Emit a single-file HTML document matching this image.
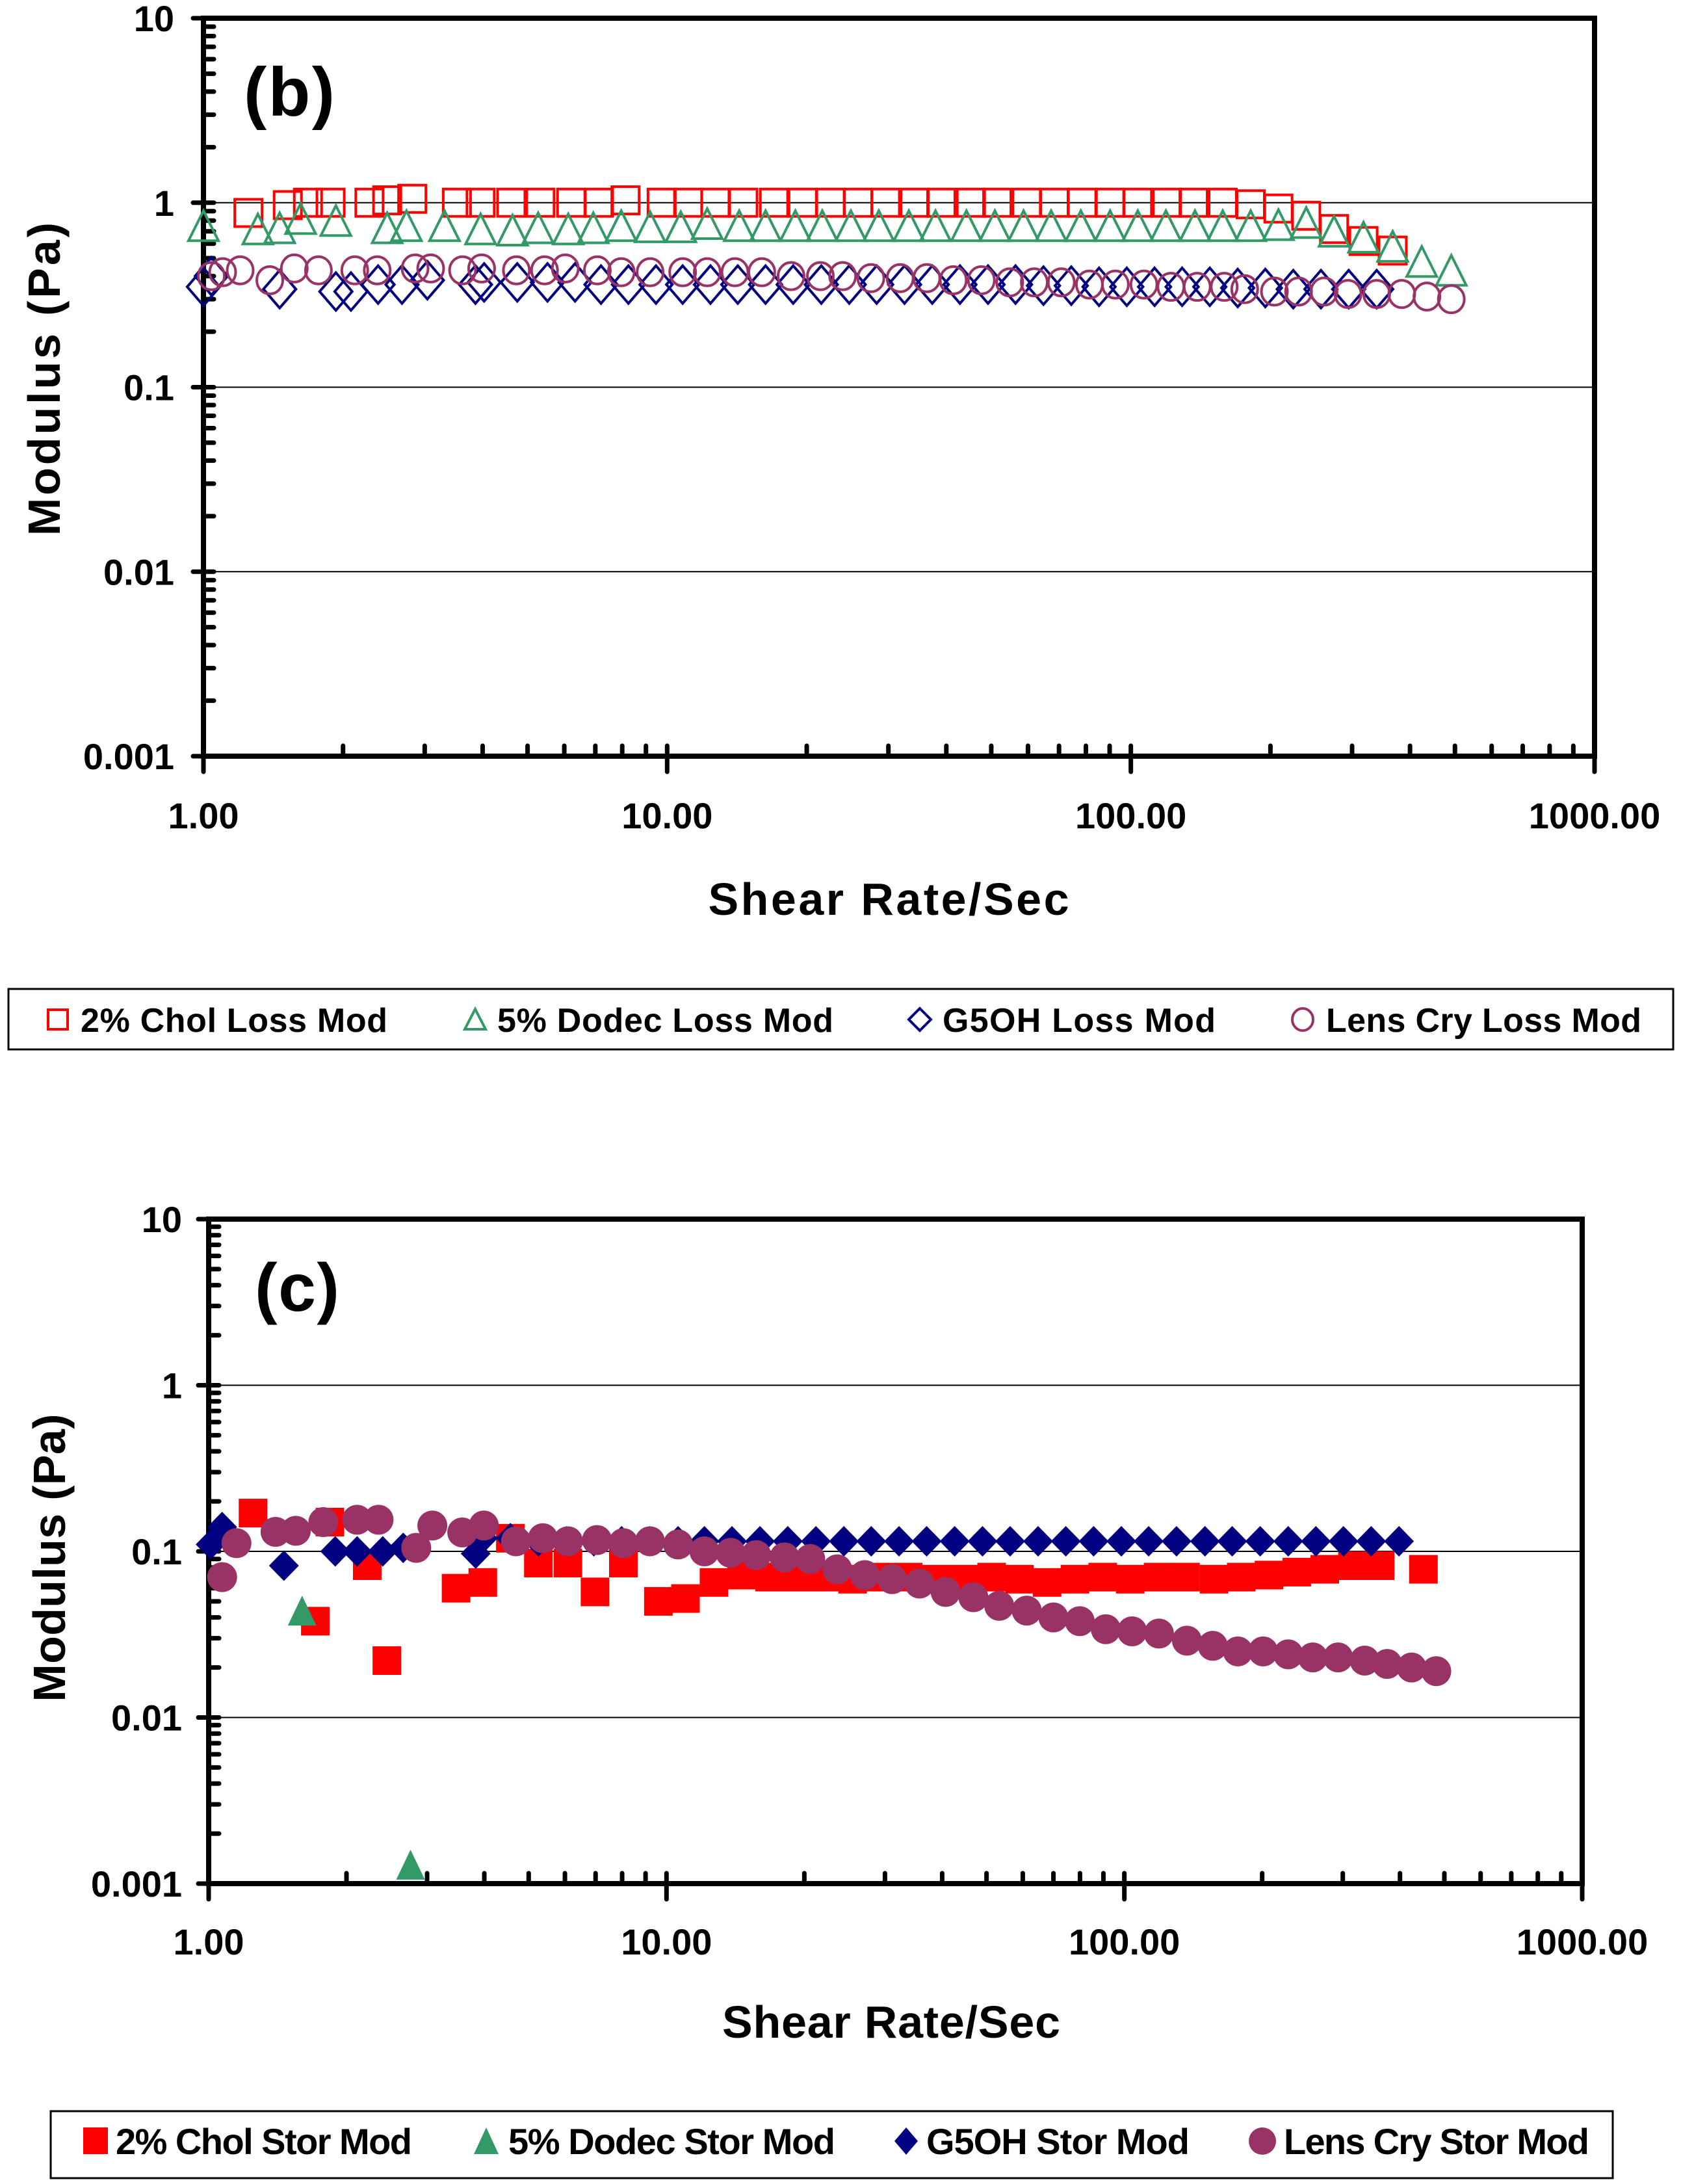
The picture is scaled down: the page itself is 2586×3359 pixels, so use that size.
<!DOCTYPE html>
<html><head><meta charset="utf-8"><style>
html,body{margin:0;padding:0;background:#fff;}
svg{display:block;}
text{font-family:"Liberation Sans",Arial,sans-serif;font-weight:bold;fill:#000;}
</style></head>
<body>
<svg id="svg" width="2586" height="3359" viewBox="0 0 2586 3359" xmlns="http://www.w3.org/2000/svg">
<g id="c1"></g>
<g id="c2"></g>
</svg>
<script>
// ---- chart (b) data: loss modulus ----
const cholLossX=[1.25,1.52,1.68,1.88,2.28,2.49,2.82,3.52,3.96,4.61,5.33,6.21,7.13,8.13,9.73,11.1,12.7,14.6,17.0,19.6,22.5,25.8,29.6,34.2,39.0,45.2,51.5,59.6,68.4,78.5,90.2,103.5,119.7,136.5,157.8,181.3,208.1,238.9,274.3,317.5,367];
const cholLossY=[0.88,0.97,1.0,1.0,1.0,1.03,1.05,1.0,1.0,1.0,1.0,1.0,1.0,1.03,1.0,1.0,1.0,1.0,1.0,1.0,1.0,1.0,1.0,1.0,1.0,1.0,1.0,1.0,1.0,1.0,1.0,1.0,1.0,1.0,1.0,0.98,0.93,0.85,0.72,0.62,0.55];
const dodecLossX=[1.0,1.31,1.46,1.62,1.93,2.49,2.74,3.31,3.96,4.64,5.27,6.12,6.93,7.96,9.19,10.7,12.2,14.3,16.3,18.9,21.6,24.9,28.6,33.2,37.9,44.2,50.9,58.7,67.3,78.0,90.2,103.5,119,137.5,157.8,181.3,208.1,238.9,274.3,317.5,367,424,491];
const dodecLossY=[0.75,0.72,0.73,0.82,0.8,0.73,0.75,0.75,0.72,0.71,0.73,0.72,0.73,0.75,0.74,0.74,0.77,0.75,0.75,0.75,0.75,0.75,0.75,0.75,0.75,0.75,0.75,0.75,0.75,0.75,0.75,0.75,0.75,0.75,0.75,0.75,0.76,0.78,0.7,0.65,0.58,0.48,0.43];
const g5LossX=[1.0,1.04,1.46,1.93,2.08,2.38,2.68,3.04,3.86,4.03,4.75,5.52,6.33,7.2,8.25,9.46,10.8,12.4,14.2,16.3,18.7,21.5,24.7,28.3,32.5,37.3,42.8,49.2,56.4,64.8,74.4,85.4,98,112.5,129,148,170,195,224,257,295,339];
const g5LossY=[0.35,0.4,0.34,0.33,0.33,0.36,0.36,0.38,0.36,0.37,0.37,0.37,0.37,0.36,0.36,0.36,0.36,0.36,0.36,0.36,0.36,0.36,0.36,0.36,0.36,0.36,0.36,0.36,0.36,0.355,0.355,0.35,0.35,0.35,0.35,0.35,0.345,0.345,0.34,0.34,0.34,0.34];
const lensLossX=[1.04,1.10,1.2,1.39,1.57,1.77,2.12,2.37,2.86,3.09,3.62,3.98,4.73,5.44,6.03,7.07,7.96,9.19,10.8,12.2,14.0,16.0,18.5,21.4,23.9,27.5,31.8,36.3,41.4,47.6,54.8,61.9,70.8,81.4,92.6,106.7,122,139,159,176,204,230,261,294,339,384,435,491];
const lensLossY=[0.4,0.42,0.43,0.38,0.44,0.43,0.43,0.43,0.44,0.44,0.43,0.44,0.43,0.43,0.44,0.43,0.42,0.42,0.42,0.42,0.42,0.42,0.4,0.4,0.4,0.39,0.39,0.39,0.38,0.38,0.37,0.37,0.37,0.36,0.36,0.36,0.35,0.35,0.35,0.34,0.33,0.33,0.33,0.32,0.32,0.32,0.31,0.3];
// ---- chart (c) data: storage modulus ----
const cholStorX=[1.25,1.71,1.84,2.22,2.45,3.47,3.97,4.56,5.25,6.09,6.98,8.05,9.6,11.0,12.7,14.6,16.8,19.3,22.2,25.5,29.3,33.7,38.8,44.6,51.3,59,67.8,78,89.7,103,118.5,136,157,180,207,238,274,315,362,450];
const cholStorY=[0.17,0.038,0.15,0.082,0.022,0.06,0.065,0.12,0.085,0.085,0.057,0.085,0.05,0.052,0.065,0.072,0.07,0.07,0.07,0.068,0.07,0.07,0.068,0.068,0.07,0.068,0.065,0.068,0.07,0.068,0.07,0.07,0.068,0.07,0.072,0.075,0.078,0.082,0.082,0.078];
const dodecStorX=[1.6,2.76];
const dodecStorY=[0.044,0.0013];
const g5StorX=[1.01,1.07,1.46,1.89,2.11,2.4,2.66,3.83,3.97,4.56,5.25,6.04,6.94,7.98,9.18,10.6,12.1,13.9,16.0,18.4,21.2,24.4,28,32.2,37,42.6,49,56.3,64.8,74.5,85.7,98.5,113,130,150,172,198,228,262,301,346,398];
const g5StorY=[0.11,0.14,0.082,0.1,0.1,0.1,0.105,0.097,0.12,0.12,0.115,0.115,0.115,0.115,0.115,0.115,0.115,0.115,0.115,0.115,0.115,0.115,0.115,0.115,0.115,0.115,0.115,0.115,0.115,0.115,0.115,0.115,0.115,0.115,0.115,0.115,0.115,0.115,0.115,0.115,0.115,0.115];
const lensStorX=[1.07,1.15,1.4,1.55,1.78,2.11,2.35,2.84,3.08,3.58,3.99,4.69,5.37,6.09,7.05,8.05,9.2,10.6,12.1,13.8,15.7,18.1,20.6,23.6,27.1,31.1,35.7,40.7,46.8,53.3,61.2,70.0,79.9,91.1,104,119,137,156,177,201,228,258,293,335,375,424,480];
const lensStorY=[0.07,0.112,0.131,0.133,0.15,0.155,0.155,0.105,0.143,0.13,0.143,0.115,0.12,0.115,0.117,0.112,0.115,0.11,0.1,0.098,0.095,0.092,0.09,0.078,0.072,0.068,0.064,0.057,0.053,0.047,0.044,0.04,0.038,0.034,0.033,0.032,0.029,0.027,0.025,0.025,0.024,0.023,0.023,0.022,0.021,0.02,0.019];
const xTickLabels=["1.00","10.00","100.00","1000.00"];
const yTickLabels=["0.001","0.01","0.1","1","10"];

const NS="http://www.w3.org/2000/svg";
function mk(parent,tag,attrs){const e=document.createElementNS(NS,tag);for(const k in attrs)e.setAttribute(k,attrs[k]);parent.appendChild(e);return e;}

function drawChart(g,cfg){
  const {x0,x1,y0,y1}=cfg;
  const sx=v=>x0+(Math.log10(v)-0)/3*(x1-x0);
  const sy=v=>y0-(Math.log10(v)+3)/4*(y0-y1);
  for(let d=-2;d<=0;d++){
    const l=mk(g,'line',{x1:x0,x2:x1,y1:sy(Math.pow(10,d)),y2:sy(Math.pow(10,d)),stroke:'#000','stroke-width':2});
    
    
  }
  for(let d=-3;d<1;d++){for(let m=2;m<10;m++){const y=sy(m*Math.pow(10,d));mk(g,'line',{x1:x0,x2:x0+16,y1:y,y2:y,stroke:'#000','stroke-width':7,'stroke-linecap':'round'});}}
  for(let d=-3;d<=1;d++){const y=sy(Math.pow(10,d));mk(g,'line',{x1:x0-16,x2:x0+16,y1:y,y2:y,stroke:'#000','stroke-width':7,'stroke-linecap':'round'});}
  for(let d=0;d<3;d++){for(let m=2;m<10;m++){const x=sx(m*Math.pow(10,d));mk(g,'line',{x1:x,x2:x,y1:y0,y2:y0-16,stroke:'#000','stroke-width':7,'stroke-linecap':'round'});}}
  for(let d=0;d<=3;d++){const x=sx(Math.pow(10,d));mk(g,'line',{x1:x,x2:x,y1:y0-16,y2:y0+24,stroke:'#000','stroke-width':7,'stroke-linecap':'round'});}
  const fr=mk(g,'rect',{x:x0,y:y1,width:x1-x0,height:y0-y1,fill:'none',stroke:'#000','stroke-width':8});
  
  
  xTickLabels.forEach((t,i)=>{const e=mk(g,'text',{x:sx(Math.pow(10,i)),y:cfg.xLabY,'text-anchor':'middle','font-size':56});e.textContent=t;
    
    });
  yTickLabels.forEach((t,i)=>{const e=mk(g,'text',{x:cfg.yLabX,y:sy(Math.pow(10,i-3))+20,'text-anchor':'end','font-size':56});e.textContent=t;
    
    });
  return {sx,sy};
}

function marker(g,type,x,y,filled,color){
  let e;
  const fill=filled?color:'none', sw=filled?0:4;
  if(type==='sq'){const s=filled?44:42;e=mk(g,'rect',{x:x-s/2,y:y-s/2,width:s,height:s,fill,stroke:color,'stroke-width':sw});}
  else if(type==='tri'){const w=filled?44:46,h=46;e=mk(g,'polygon',{points:`${x},${y-h/2} ${x+w/2},${y+h/2} ${x-w/2},${y+h/2}`,fill,stroke:color,'stroke-width':sw});}
  else if(type==='dia'){const w=filled?46:50,h=filled?47:58;e=mk(g,'polygon',{points:`${x},${y-h/2} ${x+w/2},${y} ${x},${y+h/2} ${x-w/2},${y}`,fill,stroke:color,'stroke-width':sw});}
  else {const r=filled?23:20;e=mk(g,'ellipse',{cx:x,cy:y,rx:r,ry:filled?23:21,fill,stroke:color,'stroke-width':sw});}
  return e;
}

const RED='#ff0000',GREEN='#339966',BLUE='#000080',PURP='#993366';

const g1=document.getElementById('c1');
const a1=drawChart(g1,{x0:313,x1:2453,y0:1163,y1:28,xLabY:1274,yLabX:268});
[[cholLossX,cholLossY,'sq',RED,'chol-loss-point'],[dodecLossX,dodecLossY,'tri',GREEN,'dodec-loss-point'],[g5LossX,g5LossY,'dia',BLUE,'g5oh-loss-point'],[lensLossX,lensLossY,'circ',PURP,'lens-loss-point']].forEach(([xs,ys,t,c,n])=>{
  xs.forEach((v,i)=>{const e=marker(g1,t,a1.sx(v),a1.sy(ys[i]),false,c);
    
    });
});
const g2=document.getElementById('c2');
const a2=drawChart(g2,{x0:321,x1:2434,y0:2897,y1:1875,xLabY:3006,yLabX:280});
[[cholStorX,cholStorY,'sq',RED,'chol-stor-point'],[g5StorX,g5StorY,'dia',BLUE,'g5oh-stor-point'],[lensStorX,lensStorY,'circ',PURP,'lens-stor-point'],[dodecStorX,dodecStorY,'tri',GREEN,'dodec-stor-point']].forEach(([xs,ys,t,c,n])=>{
  xs.forEach((v,i)=>{const e=marker(g2,t,a2.sx(v),a2.sy(ys[i]),true,c);
    
    });
});
</script>
<svg style="position:absolute;left:0;top:0" width="2586" height="3359" viewBox="0 0 2586 3359" xmlns="http://www.w3.org/2000/svg">
  <text x="375" y="178" font-size="106" textLength="140">(b)</text>
  <text x="392" y="2016" font-size="104" textLength="130">(c)</text>
  <text x="1367" y="1407" font-size="70" text-anchor="middle" textLength="555">Shear Rate/Sec</text>
  <text x="1371" y="3134" font-size="70" text-anchor="middle" textLength="520">Shear Rate/Sec</text>
  <text transform="translate(92,583) rotate(-90)" font-size="70" text-anchor="middle" textLength="482">Modulus (Pa)</text>
  <text transform="translate(100,2396) rotate(-90)" font-size="70" text-anchor="middle" textLength="443">Modulus (Pa)</text>

  <g>
    <rect x="13" y="1521" width="2561" height="93" fill="#fff" stroke="#000" stroke-width="3"/>
    <rect x="74" y="1553" width="30" height="30" fill="none" stroke="#ff0000" stroke-width="4"/>
    <text x="124" y="1587" font-size="52" textLength="472">2% Chol Loss Mod</text>
    <polygon points="731,1552 747,1583 715,1583" fill="none" stroke="#339966" stroke-width="4"/>
    <text x="765" y="1587" font-size="52" textLength="517">5% Dodec Loss Mod</text>
    <polygon points="1415,1551 1432,1568 1415,1585 1398,1568" fill="none" stroke="#000080" stroke-width="4"/>
    <text x="1450" y="1587" font-size="52" textLength="420">G5OH Loss Mod</text>
    <ellipse cx="2004" cy="1568" rx="16" ry="17" fill="none" stroke="#993366" stroke-width="4"/>
    <text x="2040" y="1587" font-size="52" textLength="485">Lens Cry Loss Mod</text>
  </g>
  <g>
    <rect x="78" y="3247" width="2403" height="103" fill="#fff" stroke="#000" stroke-width="3"/>
    <rect x="128" y="3272" width="38" height="41" fill="#ff0000"/>
    <text x="178" y="3313" font-size="56" textLength="456">2% Chol Stor Mod</text>
    <polygon points="748,3272 767,3313 729,3313" fill="#339966"/>
    <text x="782" y="3313" font-size="56" textLength="503">5% Dodec Stor Mod</text>
    <polygon points="1394,3272 1412,3293 1394,3314 1376,3293" fill="#000080"/>
    <text x="1425" y="3313" font-size="56" textLength="405">G5OH Stor Mod</text>
    <circle cx="1942" cy="3293" r="21" fill="#993366"/>
    <text x="1975" y="3313" font-size="56" textLength="470">Lens Cry Stor Mod</text>
  </g>
</svg>
</body></html>
